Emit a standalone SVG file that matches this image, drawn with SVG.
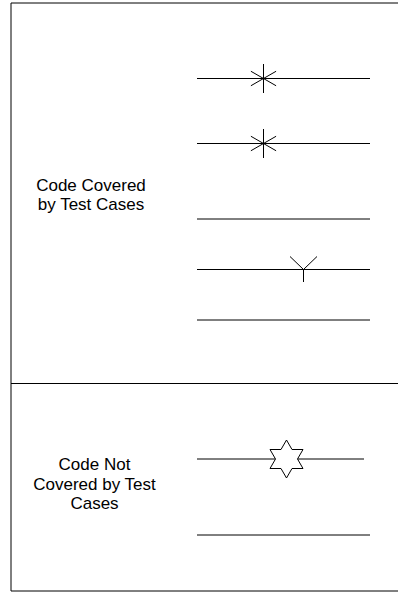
<svg xmlns="http://www.w3.org/2000/svg" width="398" height="592" viewBox="0 0 398 592">
  <style>
    .frame { fill: none; stroke: #000; stroke-width: 1; }
    .code { stroke: #000; stroke-width: 1; fill: none; }
    .mark { stroke: #000; stroke-width: 1; fill: none; }
    .star { stroke: #000; stroke-width: 1; fill: #fff; }
    .label { font-family: "Liberation Sans", Arial, sans-serif; font-size: 17px; fill: #000; text-anchor: middle; }
  </style>
  <defs>
    <!-- six-armed asterisk, radius 14.5 -->
    <g id="asterisk">
      <line class="mark" x1="0" y1="-14.5" x2="0" y2="14.5"/>
      <line class="mark" x1="-12.6" y1="-7.25" x2="12.6" y2="7.25"/>
      <line class="mark" x1="-12.6" y1="7.25" x2="12.6" y2="-7.25"/>
    </g>
  </defs>

  <rect width="398" height="592" fill="#fff"/>

  <!-- outer frame split into two bands -->
  <g id="frame">
    <path class="frame" d="M400 3 H11 V591 H400"/>
    <line class="frame" x1="11" y1="383.5" x2="400" y2="383.5"/>
  </g>

  <g id="covered-label">
    <text class="label" x="91" y="191">Code Covered</text>
    <text class="label" x="91" y="210">by Test Cases</text>
  </g>

  <g id="not-covered-label">
    <text class="label" x="94.5" y="470">Code Not</text>
    <text class="label" x="94.5" y="490">Covered by Test</text>
    <text class="label" x="94.5" y="509">Cases</text>
  </g>

  <g id="connectors">
    <g id="line-1">
      <line class="code" x1="197" y1="78.5" x2="370" y2="78.5"/>
      <use href="#asterisk" x="263.5" y="78.5"/>
    </g>
    <g id="line-2">
      <line class="code" x1="197" y1="143.5" x2="370" y2="143.5"/>
      <use href="#asterisk" x="263.5" y="143.5"/>
    </g>
    <g id="line-3">
      <line class="code" x1="197" y1="219" x2="370" y2="219"/>
    </g>
    <g id="line-4">
      <line class="code" x1="197" y1="269.5" x2="370" y2="269.5"/>
      <path class="mark" d="M290 256.5 L303.5 269.5 L317 256.5 M303.5 269.5 V282"/>
    </g>
    <g id="line-5">
      <line class="code" x1="197" y1="320" x2="370" y2="320"/>
    </g>
    <g id="line-6">
      <line class="code" x1="197" y1="459" x2="364" y2="459"/>
      <polygon class="star" points="286.5,440 292,449.5 303,449.5 297.5,459 303,468.5 292,468.5 286.5,478 281,468.5 270,468.5 275.5,459 270,449.5 281,449.5"/>
    </g>
    <g id="line-7">
      <line class="code" x1="197" y1="535" x2="370" y2="535"/>
    </g>
  </g>
</svg>
